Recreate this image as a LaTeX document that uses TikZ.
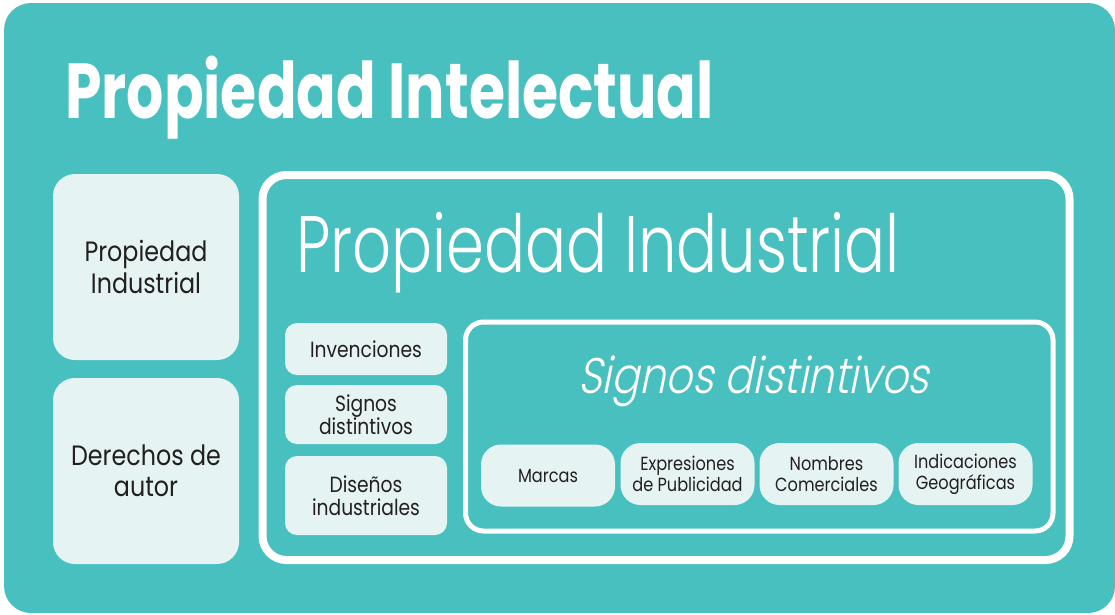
\documentclass[tikz,border=0pt]{standalone}
\usepackage{fontspec}
\setmainfont{Poppins}
\newfontfamily\titlefont{Poppins}[FakeStretch=0.75]
\newfontfamily\subtitlefont{Poppins Light}[FakeStretch=0.76]
\newfontfamily\slfont{Poppins Light}[FakeSlant=0.2,FakeStretch=0.83]
\newfontfamily\bodyfont{Poppins}[FakeStretch=0.85]
\definecolor{tealbg}{HTML}{48C0BF}
\definecolor{boxfill}{HTML}{E5F4F3}
\definecolor{ink}{HTML}{231F20}
\tikzset{
  bigbox/.style={draw=none,fill=boxfill,rounded corners=22pt,inner sep=0pt,align=center,
    text=ink,minimum width=186pt,minimum height=186pt},
  leftbox/.style={draw=none,fill=boxfill,rounded corners=12pt,inner sep=0pt,align=center,
    text=ink,minimum width=162pt,font=\bodyfont\fontsize{22}{23}\selectfont},
  rowbox/.style={draw=none,fill=boxfill,rounded corners=20pt,inner sep=0pt,align=center,
    text=ink,minimum width=134pt,minimum height=62pt,font=\bodyfont\fontsize{19}{21}\selectfont},
  frame/.style={draw=white,rounded corners=#1},
}
\begin{document}
\begin{tikzpicture}[x=1pt,y=-1pt]
\useasboundingbox (0,0) rectangle (1115,614);
\fill[tealbg,rounded corners=27pt] (4,3) rectangle (1115,613);
\node[anchor=base west,inner sep=0pt,text=white,font=\titlefont\bfseries\fontsize{78}{85}\selectfont] (title) at (65,118) {Propiedad Intelectual};
% left column
\node[bigbox,font=\bodyfont\fontsize{28}{32}\selectfont] (pi) at (146,267) {Propiedad\\Industrial};
\node[bigbox,font=\bodyfont\fontsize{28}{31}\selectfont] (da) at (146,471) {Derechos de\\autor};
% industrial frame
\draw[frame=24pt,line width=8pt] (262.5,175) rectangle (1069.5,560);
\node[anchor=base west,inner sep=0pt,text=white,font=\subtitlefont\fontsize{80}{88}\selectfont] (ptitle) at (296,272) {Propiedad Industrial};
\node[leftbox,minimum height=52pt] (inv) at (366,349) {Invenciones};
\node[leftbox,minimum height=59pt] (sig) at (366,414.5) {Signos\\distintivos};
\node[leftbox,minimum height=79pt] (dis) at (366,495.5) {Diseños\\industriales};
% signos frame
\draw[frame=18pt,line width=5pt] (465.5,322) rectangle (1053,531);
\node[anchor=base west,inner sep=0pt,text=white,font=\slfont\fontsize{50}{55}\selectfont] (stitle) at (578,393) {Signos distintivos};
\node[rowbox] (mar) at (548,475.5) {Marcas};
\node[rowbox] (exp) at (687.5,474) {Expresiones\\de Publicidad};
\node[rowbox] (nom) at (826.5,474) {Nombres\\Comerciales};
\node[rowbox] (ind) at (965.5,474) {Indicaciones\\Geográficas};
\end{tikzpicture}
\end{document}
